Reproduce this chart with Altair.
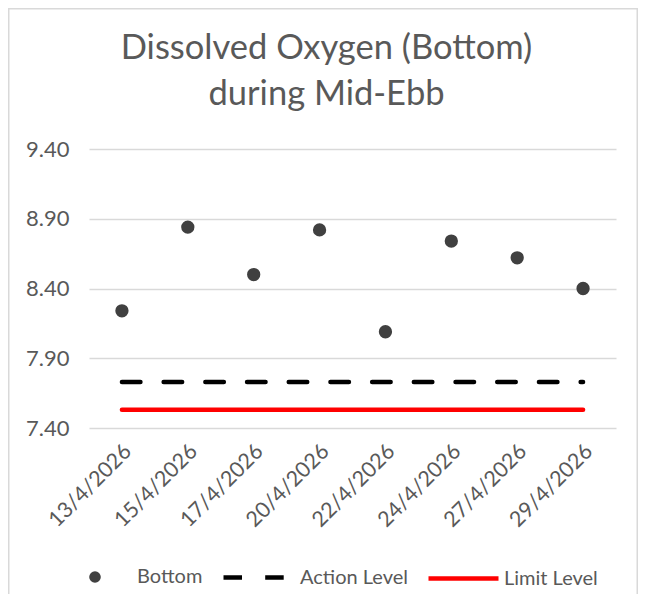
import altair as alt
import pandas as pd

dates = ["13/4/2026", "15/4/2026", "17/4/2026", "20/4/2026",
         "22/4/2026", "24/4/2026", "27/4/2026", "29/4/2026"]
bottom = [8.24, 8.84, 8.50, 8.82, 8.09, 8.74, 8.62, 8.40]
action_level = [7.73] * len(dates)
limit_level = [7.53] * len(dates)
y_ticks = [7.4, 7.9, 8.4, 8.9, 9.4]

FONT = "Lato"
GREY = "#595959"

df_pts = pd.DataFrame({"date": dates, "value": bottom, "series": "Bottom"})
df_act = pd.DataFrame({"date": dates, "value": action_level, "series": "Action Level"})
df_lim = pd.DataFrame({"date": dates, "value": limit_level, "series": "Limit Level"})

x_enc = alt.X("date:O", sort=dates,
              scale=alt.Scale(type="point", padding=0.5),
              axis=alt.Axis(title=None, labelAngle=-45, labelFont=FONT, labelFontSize=21.5,
                            labelColor=GREY, domain=False, ticks=False, grid=False,
                            labelPadding=20, labelOffset=6, labelAlign="right",
                            labelBaseline="middle"))
y_enc = alt.Y("value:Q",
              scale=alt.Scale(domain=[7.4, 9.4], nice=False, zero=False),
              axis=alt.Axis(title=None, values=y_ticks, format=".2f", labelFont=FONT,
                            labelFontSize=22, labelColor=GREY, domain=False, ticks=False,
                            labelPadding=20, gridColor="#d9d9d9", gridWidth=1.3))

leg_common = dict(title=None, orient="none", direction="horizontal",
                  labelFont=FONT, labelFontSize=20, labelColor=GREY, padding=0)

points = alt.Chart(df_pts).mark_point(filled=True, size=177, opacity=1, shape="circle").encode(
    x=x_enc, y=y_enc,
    color=alt.Color("series:N", scale=alt.Scale(domain=["Bottom"], range=["#404040"]),
                    legend=alt.Legend(legendX=-4, legendY=418, symbolType="circle",
                                      symbolSize=135, symbolOpacity=1, labelOffset=32,
                                      symbolFillColor="#404040", symbolStrokeWidth=0,
                                      **leg_common)))

act = alt.Chart(df_act).mark_line(color="#000000", strokeWidth=4.5, strokeCap="round").encode(
    x=x_enc, y=y_enc,
    strokeDash=alt.StrokeDash("series:N",
                              scale=alt.Scale(domain=["Action Level"], range=[[18.5, 23.2]]),
                              legend=alt.Legend(legendX=132, legendY=394, symbolType="stroke",
                                                symbolSize=4096, symbolStrokeWidth=4.5,
                                                symbolStrokeColor="#000000", symbolDash=[23, 18],
                                                labelOffset=10, **leg_common)))

lim = alt.Chart(df_lim).mark_line(color="#ff0000", strokeWidth=4.5, strokeCap="round").encode(
    x=x_enc, y=y_enc,
    opacity=alt.Opacity("series:N",
                        scale=alt.Scale(domain=["Limit Level"], range=[1]),
                        legend=alt.Legend(legendX=337, legendY=392, symbolType="stroke",
                                          symbolSize=4900, symbolStrokeWidth=4.5,
                                          symbolStrokeColor="#ff0000", symbolOpacity=1,
                                          labelOffset=3, **leg_common)))

border = alt.Chart(pd.DataFrame({"a": [0]})).mark_rect(
    fill="transparent", stroke="#d9d9d9", strokeWidth=1.5, clip=False).encode(
    x=alt.value(-80.25), x2=alt.value(548.25), y=alt.value(-140.25), y2=alt.value(480))

chart = alt.layer(border, lim, act, points).properties(
    width=527, height=279,
    autosize=alt.AutoSizeParams(type="none"),
    padding={"left": 81, "top": 141, "right": 22, "bottom": 166},
    title=alt.Title(["Dissolved Oxygen (Bottom)", "during Mid-Ebb"], font=FONT, fontSize=34.5,
                    fontWeight="normal", color=GREY, lineHeight=46, anchor="middle",
                    frame="group", dx=-26, offset=-104),
).resolve_legend(color="independent").configure(
    background="white", view=alt.ViewConfig(stroke=None))

chart.save("out.html", embed_options={"renderer": "svg", "actions": False})
